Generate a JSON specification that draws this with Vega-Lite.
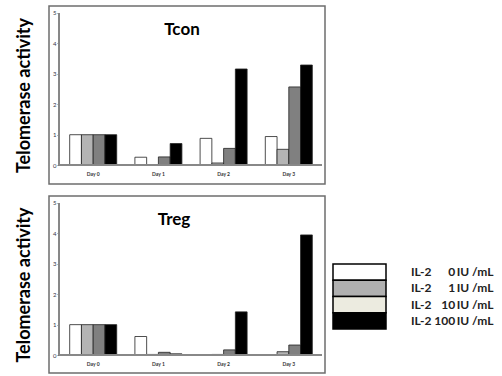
{
  "$schema": "https://vega.github.io/schema/vega-lite/v6.json",
  "padding": {"left": 14, "top": 5, "right": 0, "bottom": 0},
  "spacing": 10,
  "config": {
    "font": "Lato",
    "view": {"stroke": "#6e6e6e", "strokeWidth": 1.5},
    "axis": {"grid": false, "labelOverlap": false, "labelBound": false}
  },
  "datasets": {
    "tcon": [
      {"day": "Day 0", "conc": "0", "value": 1},
      {"day": "Day 0", "conc": "1", "value": 1},
      {"day": "Day 0", "conc": "10", "value": 1},
      {"day": "Day 0", "conc": "100", "value": 1},
      {"day": "Day 1", "conc": "0", "value": 0.26},
      {"day": "Day 1", "conc": "1", "value": 0},
      {"day": "Day 1", "conc": "10", "value": 0.27},
      {"day": "Day 1", "conc": "100", "value": 0.71},
      {"day": "Day 2", "conc": "0", "value": 0.88},
      {"day": "Day 2", "conc": "1", "value": 0.07},
      {"day": "Day 2", "conc": "10", "value": 0.55},
      {"day": "Day 2", "conc": "100", "value": 3.16},
      {"day": "Day 3", "conc": "0", "value": 0.94},
      {"day": "Day 3", "conc": "1", "value": 0.52},
      {"day": "Day 3", "conc": "10", "value": 2.57},
      {"day": "Day 3", "conc": "100", "value": 3.29}
    ],
    "treg": [
      {"day": "Day 0", "conc": "0", "value": 1},
      {"day": "Day 0", "conc": "1", "value": 1},
      {"day": "Day 0", "conc": "10", "value": 1},
      {"day": "Day 0", "conc": "100", "value": 1},
      {"day": "Day 1", "conc": "0", "value": 0.61},
      {"day": "Day 1", "conc": "1", "value": 0.02},
      {"day": "Day 1", "conc": "10", "value": 0.09},
      {"day": "Day 1", "conc": "100", "value": 0.04},
      {"day": "Day 2", "conc": "0", "value": 0.01},
      {"day": "Day 2", "conc": "1", "value": 0.02},
      {"day": "Day 2", "conc": "10", "value": 0.17},
      {"day": "Day 2", "conc": "100", "value": 1.42},
      {"day": "Day 3", "conc": "0", "value": 0},
      {"day": "Day 3", "conc": "1", "value": 0.11},
      {"day": "Day 3", "conc": "10", "value": 0.33},
      {"day": "Day 3", "conc": "100", "value": 3.95}
    ],
    "legend": [
      {"conc": "0", "label": "IL-2 \u2007\u20070\u2009IU /mL"},
      {"conc": "1", "label": "IL-2 \u2007\u20071\u2009IU /mL"},
      {"conc": "10", "label": "IL-2 \u200710\u2009IU /mL"},
      {"conc": "100", "label": "IL-2 100\u2009IU /mL"}
    ]
  },
  "vconcat": [
    {
      "width": 276,
      "height": 178,
      "data": {"name": "tcon"},
      "title": {"text": "Tcon", "frame": "group", "anchor": "middle", "offset": -33, "dx": -5, "fontSize": 17, "fontWeight": "bold", "font": "Lato", "color": "#000"},
      "layer": [
        {
          "mark": {"type": "bar", "stroke": "#222", "strokeWidth": 0.8},
          "encoding": {
            "x": {"field": "day", "type": "nominal", "sort": ["Day 0", "Day 1", "Day 2", "Day 3"],
              "scale": {"paddingInner": 0.279, "paddingOuter": 0.256, "align": 0.62},
              "axis": {"title": null, "labelAngle": 0, "offset": -19, "domain": false, "ticks": false, "labelFontSize": 5, "labelFontWeight": "bold", "labelPadding": 6, "labelColor": "#333"}},
            "xOffset": {"field": "conc", "type": "nominal", "sort": ["0", "1", "10", "100"]},
            "y": {"field": "value", "type": "quantitative",
              "scale": {"domain": [-0.62, 5.23], "nice": false, "zero": false},
              "axis": {"tickCount": 6, "labelOverlap": false, "labelFlush": false, "offset": -10, "domain": false, "tickSize": 2, "tickColor": "#777", "labelFontSize": 6, "labelPadding": 1, "labelColor": "#334",
                "title": "Telomerase activity", "titleFontSize": 18, "titleFontWeight": "bold", "titleFont": "Lato", "titleColor": "#000", "titlePadding": 19}},
            "y2": {"datum": 0},
            "color": {"field": "conc", "type": "nominal", "scale": {"domain": ["0", "1", "10", "100"], "range": ["#ffffff", "#b4b4b4", "#808080", "#000000"]}, "legend": null}
          }
        },
        {
          "mark": {"type": "rule", "color": "#888", "strokeWidth": 1.5},
          "encoding": {
            "x": {"datum": "Day 0", "bandPosition": -0.228},
            "y": {"datum": 0},
            "y2": {"datum": 5}
          }
        },
        {
          "mark": {"type": "rule", "color": "#888", "strokeWidth": 1.5},
          "encoding": {
            "x": {"datum": "Day 0", "bandPosition": -0.228},
            "x2": {"datum": "Day 3", "bandPosition": 1.206},
            "y": {"datum": 0}
          }
        }
      ]
    },
    {
      "spacing": 6,
      "hconcat": [
        {
          "width": 276,
          "height": 177,
          "data": {"name": "treg"},
          "title": {"text": "Treg", "frame": "group", "anchor": "middle", "offset": -33, "dx": -13, "fontSize": 17, "fontWeight": "bold", "font": "Lato", "color": "#000"},
          "layer": [
            {
              "mark": {"type": "bar", "stroke": "#222", "strokeWidth": 0.8},
              "encoding": {
                "x": {"field": "day", "type": "nominal", "sort": ["Day 0", "Day 1", "Day 2", "Day 3"],
                  "scale": {"paddingInner": 0.279, "paddingOuter": 0.256, "align": 0.62},
                  "axis": {"title": null, "labelAngle": 0, "offset": -18, "domain": false, "ticks": false, "labelFontSize": 5, "labelFontWeight": "bold", "labelPadding": 6, "labelColor": "#333"}},
                "xOffset": {"field": "conc", "type": "nominal", "sort": ["0", "1", "10", "100"]},
                "y": {"field": "value", "type": "quantitative",
                  "scale": {"domain": [-0.59, 5.23], "nice": false, "zero": false},
                  "axis": {"tickCount": 6, "labelOverlap": false, "labelFlush": false, "offset": -10, "domain": false, "tickSize": 2, "tickColor": "#777", "labelFontSize": 6, "labelPadding": 1, "labelColor": "#334",
                    "title": "Telomerase activity", "titleFontSize": 18, "titleFontWeight": "bold", "titleFont": "Lato", "titleColor": "#000", "titlePadding": 19}},
                "y2": {"datum": 0},
                "color": {"field": "conc", "type": "nominal", "scale": {"domain": ["0", "1", "10", "100"], "range": ["#ffffff", "#b4b4b4", "#808080", "#000000"]}, "legend": null}
              }
            },
            {
              "mark": {"type": "rule", "color": "#888", "strokeWidth": 1.5},
              "encoding": {
                "x": {"datum": "Day 0", "bandPosition": -0.228},
                "y": {"datum": 0},
                "y2": {"datum": 5}
              }
            },
            {
              "mark": {"type": "rule", "color": "#888", "strokeWidth": 1.5},
              "encoding": {
                "x": {"datum": "Day 0", "bandPosition": -0.228},
                "x2": {"datum": "Day 3", "bandPosition": 1.206},
                "y": {"datum": 0}
              }
            }
          ]
        },
        {
          "width": 165,
          "height": 177,
          "view": {"stroke": null},
          "data": {"name": "legend"},
          "layer": [
            {
              "mark": {"type": "rect", "stroke": "#000", "strokeWidth": 1.5},
              "encoding": {
                "y": {"field": "conc", "type": "nominal", "sort": ["0", "1", "10", "100"],
                  "scale": {"paddingInner": 0, "paddingOuter": 0, "range": [68, 133]}, "axis": null},
                "x": {"datum": 0, "type": "quantitative", "scale": {"domain": [0, 165], "nice": false, "zero": false}, "axis": null},
                "x2": {"datum": 53},
                "fill": {"field": "conc", "type": "nominal", "scale": {"domain": ["0", "1", "10", "100"], "range": ["#ffffff", "#b0b0b0", "#ecebe0", "#000000"]}, "legend": null}
              }
            },
            {
              "mark": {"type": "text", "align": "left", "baseline": "middle", "fontSize": 12, "fontWeight": "bold", "font": "Lato", "color": "#222"},
              "encoding": {
                "y": {"field": "conc", "type": "nominal", "sort": ["0", "1", "10", "100"]},
                "x": {"datum": 78, "type": "quantitative"},
                "text": {"field": "label", "type": "nominal"}
              }
            }
          ]
        }
      ]
    }
  ]
}
